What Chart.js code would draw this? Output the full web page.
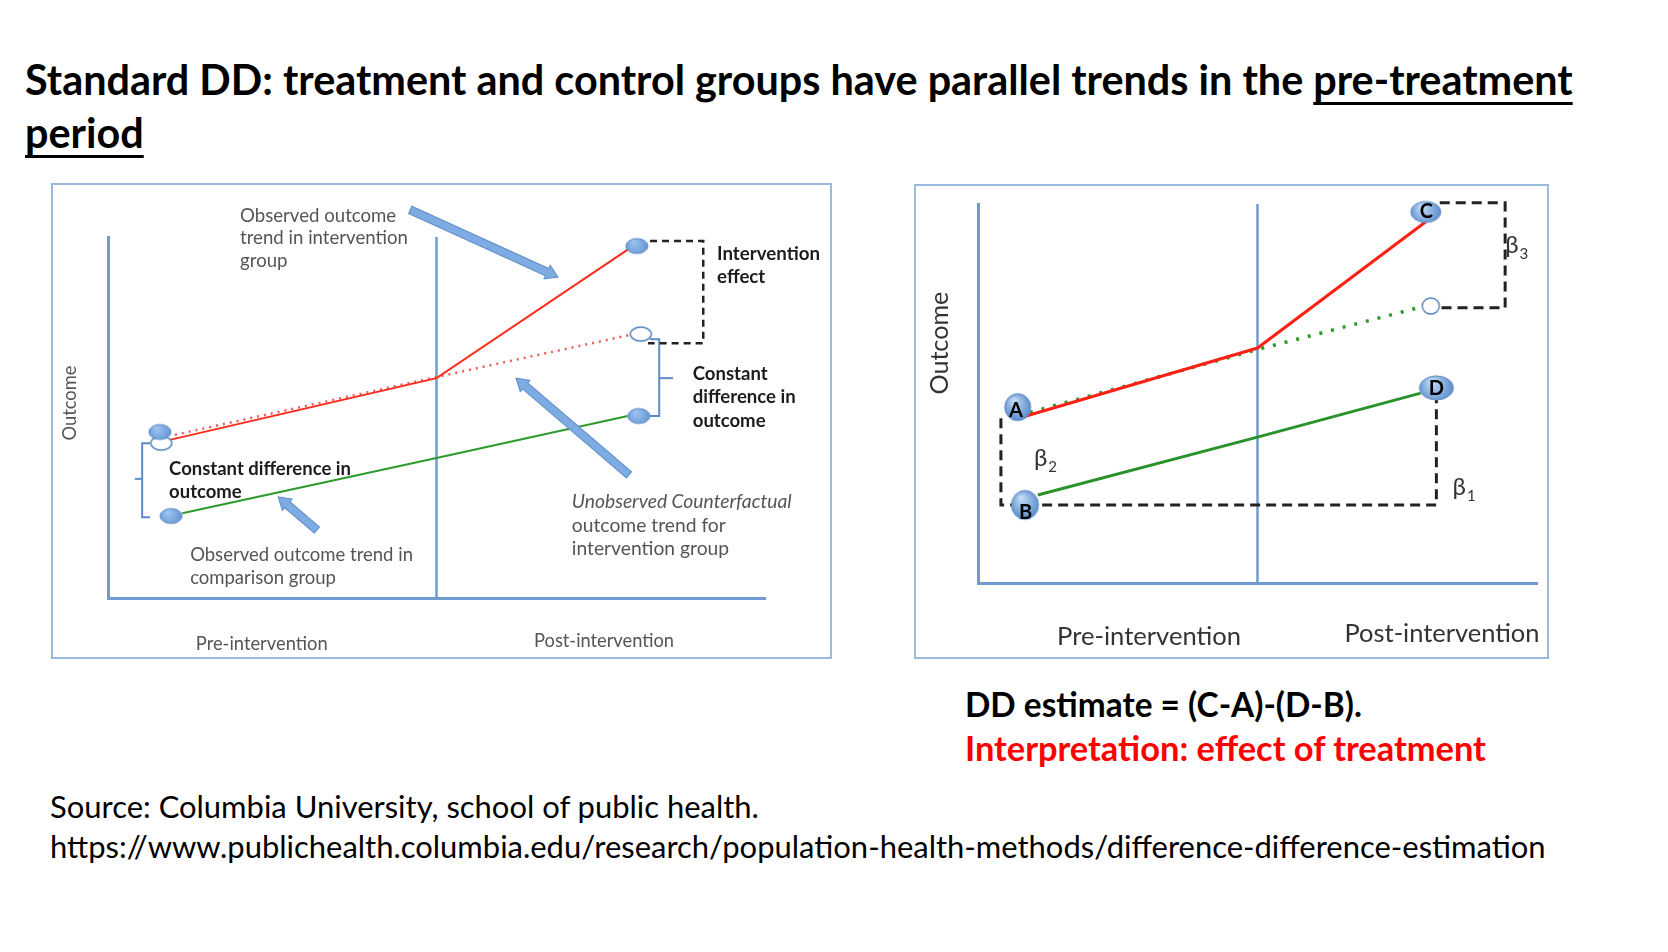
<!DOCTYPE html>
<html><head><meta charset="utf-8">
<title>Standard DD</title>
<script src="https://cdn.jsdelivr.net/npm/chart.js@4.4.1/dist/chart.umd.min.js"></script>
<style>
html,body{margin:0;padding:0;background:#fff;}
body{width:1668px;height:952px;position:relative;overflow:hidden;font-family:Lato,'Open Sans',sans-serif;}
.t{position:absolute;white-space:nowrap;line-height:1.2;margin:0;}
.bl{display:inline-block;width:0;height:0;}
u{text-decoration-thickness:3px;text-underline-offset:7px;}
.box{position:absolute;border:2px solid #9ab9df;box-sizing:border-box;}
canvas{position:absolute;}
</style></head>
<body>
<div id="title1" class="t" style="font-weight:700;color:#000">Standard DD: treatment and control groups have parallel trends in the <u>pre-treatment</u><span class="bl"></span></div>
<div id="title2" class="t" style="font-weight:700;color:#000"><u>period</u><span class="bl"></span></div>
<div class="box" style="left:51px;top:183px;width:781px;height:476px"></div>
<canvas id="left" width="780" height="475" style="left:51px;top:183px"></canvas>
<div class="box" style="left:914px;top:184px;width:635px;height:475px"></div>
<canvas id="right" width="634" height="474" style="left:914px;top:184px"></canvas>
<div id="dd" class="t" style="font-weight:700;color:#000">DD estimate = (C-A)-(D-B).<span class="bl"></span></div>
<div id="interp" class="t" style="font-weight:700;color:#ff0000">Interpretation: effect of treatment<span class="bl"></span></div>
<div id="src1" class="t" style="color:#000">Source: Columbia University, school of public health.<span class="bl"></span></div>
<div id="src2" class="t" style="color:#000">https://www.publichealth.columbia.edu/research/population-health-methods/difference-difference-estimation<span class="bl"></span></div>
<script>
// ================= DATA =================
// Time axis: 0..10, intervention at 5. Outcome axis: 0..10.
const periods = ['Pre-intervention', 'Post-intervention'];
const interventionX = 5;

// ---- Left panel ----
const leftTreated        = [{x:0.94,y:4.38},{x:5,y:6.09},{x:7.95,y:9.70}];
const leftCounterfactual = [{x:1.02,y:4.52},{x:5,y:6.12},{x:8.05,y:7.33}];
const leftComparison     = [{x:1.13,y:2.35},{x:5,y:3.88},{x:7.91,y:5.04}];
const leftFilledPoints   = [{x:0.79,y:4.60},{x:0.96,y:2.27},{x:8.05,y:9.75},{x:8.08,y:5.04}];
const leftOpenPoints     = [{x:0.81,y:4.29},{x:8.11,y:7.31}];
const leftEffectBracket  = [{x:8.25,y:9.89},{x:9.06,y:9.89},{x:9.06,y:7.06},{x:8.22,y:7.06}];
const leftBraceRight     = [{x:8.25,y:7.17},{x:8.39,y:7.17},{x:8.39,y:5.04},{x:8.25,y:5.04}];
const leftBraceRightTick = [{x:8.39,y:6.09},{x:8.60,y:6.09}];
const leftBraceLeft      = [{x:0.64,y:4.29},{x:0.52,y:4.29},{x:0.52,y:2.24},{x:0.64,y:2.24}];
const leftBraceLeftTick  = [{x:0.52,y:3.30},{x:0.41,y:3.30}];
const leftArrows         = [[4.6,10.75,6.85,8.89],[7.93,3.41,6.21,6.09],[3.18,1.88,2.59,2.80]];

// ---- Right panel ----
const rightTreated        = [{x:0.80,y:4.38},{x:5,y:6.20},{x:8.01,y:9.53}];
const rightCounterfactual = [{x:0.93,y:4.50},{x:5,y:6.16},{x:8.00,y:7.31}];
const rightComparison     = [{x:1.07,y:2.32},{x:5,y:3.85},{x:7.92,y:5.01}];
const rightNamedPoints    = [{x:0.71,y:4.64},{x:0.84,y:2.06},{x:8.01,y:9.79},{x:8.20,y:5.15}];
const rightPointNames     = ['A','B','C','D'];
const rightOpenPoints     = [{x:8.10,y:7.31}];
const rightBeta3Bracket   = [{x:8.26,y:10.03},{x:9.43,y:10.03},{x:9.43,y:7.26},{x:8.26,y:7.26}];
const rightBeta12Bracket  = [{x:0.41,y:4.35},{x:0.41,y:2.06},{x:8.20,y:2.06},{x:8.20,y:4.83}];
const rightBetaLabels     = ['β','β','β'];
const rightBetaSubs       = ['2','1','3'];
const rightBetaPos        = [{x:1.0,y:3.09},{x:8.49,y:2.32},{x:9.43,y:8.71}];

// ================= STYLE HELPERS =================
const FAM = "Lato, 'Open Sans', 'DejaVu Sans', sans-serif";
const axisBlue = '#6f9bd1';
const divider = [{x:interventionX,y:0},{x:interventionX,y:10}];

function lineDS(data, color, width, dash, order){
  return {type:'line', data, borderColor:color, borderWidth:width, borderDash:dash||[],
    pointRadius:0, fill:false, tension:0, clip:false, order:order==null?10:order,
    borderCapStyle:'butt', borderJoinStyle:'miter'};
}
function markerDS(data, styles, order){
  return {type:'scatter', data, showLine:false, pointStyle:styles, pointRadius:10,
    pointHoverRadius:10, clip:false, order};
}
function ellipseImg(w, h, kind){
  const pad = 3, c = document.createElement('canvas');
  c.width = Math.ceil(w + pad*2); c.height = Math.ceil(h + pad*2);
  const g = c.getContext('2d'), cx = c.width/2, cy = c.height/2;
  g.beginPath(); g.ellipse(cx, cy, w/2, h/2, 0, 0, Math.PI*2);
  if (kind === 'open') {
    g.fillStyle = '#ffffff'; g.fill(); g.lineWidth = 1.4; g.strokeStyle = '#4f81bd'; g.stroke();
  } else {
    const gr = g.createRadialGradient(cx - w*0.15, cy - h*0.25, 1, cx, cy, Math.max(w,h)*0.6);
    gr.addColorStop(0, kind === 'glossy' ? '#c4dcf7' : '#9cc3ef');
    gr.addColorStop(1, kind === 'glossy' ? '#4a80c4' : '#5b8fd0');
    g.fillStyle = gr; g.fill(); g.lineWidth = 1; g.strokeStyle = '#5a88c4'; g.stroke();
  }
  return c;
}
function arrowPlugin(arrows){
  return {id:'arrows', afterDatasetsDraw(chart){
    const {ctx, scales:{x, y}} = chart;
    arrows.forEach(a => {
      const x1 = x.getPixelForValue(a[0]), y1 = y.getPixelForValue(a[1]);
      const x2 = x.getPixelForValue(a[2]), y2 = y.getPixelForValue(a[3]);
      const ang = Math.atan2(y2-y1, x2-x1), L = Math.hypot(x2-x1, y2-y1);
      const sw = 4, hw = 7.5, hl = 12;
      ctx.save(); ctx.translate(x1, y1); ctx.rotate(ang);
      ctx.beginPath(); ctx.moveTo(0,-sw); ctx.lineTo(L-hl,-sw); ctx.lineTo(L-hl,-hw); ctx.lineTo(L,0);
      ctx.lineTo(L-hl,hw); ctx.lineTo(L-hl,sw); ctx.lineTo(0,sw); ctx.closePath();
      ctx.fillStyle = '#7eabe1'; ctx.fill(); ctx.strokeStyle = '#5f8fcc'; ctx.lineWidth = 1; ctx.stroke();
      ctx.restore();
    });
  }};
}
function labelPlugin(items){
  return {id:'labels', afterDatasetsDraw(chart){
    const {ctx, scales:{x, y}} = chart;
    items.forEach(L => {
      const px = x.getPixelForValue(L.x), py = y.getPixelForValue(L.y);
      const st = i => (L.italic && L.italic[i]) ? 'italic' : 'normal';
      const font = (i, s) => `${st(i)} ${L.weight||400} ${s}px ${FAM}`;
      let size = L.size || 16;
      const fl = L.fitLine || 0;
      if (L.fit) { ctx.font = font(fl, 100); size = 100 * L.fit / ctx.measureText(L.lines[fl]).width; }
      ctx.save();
      ctx.fillStyle = L.color || '#333';
      ctx.textAlign = L.align || 'left';
      ctx.textBaseline = L.baseline || 'alphabetic';
      ctx.translate(px, py);
      if (L.rotate) ctx.rotate(-Math.PI/2);
      L.lines.forEach((t, i) => { ctx.font = font(i, size); ctx.fillText(t, 0, i * (L.lh || 0)); });
      if (L.sub) {
        ctx.font = font(0, size); const w = ctx.measureText(L.lines[0]).width;
        ctx.font = `400 ${L.subSize}px ${FAM}`; ctx.fillText(L.sub, w + 1, L.subDy);
      }
      ctx.restore();
    });
  }};
}
function scaleOpts(){
  const ax = {type:'linear', min:0, max:10, grid:{display:false, drawTicks:false}, ticks:{display:false},
    border:{display:true, color:axisBlue, width:3}};
  return {x:{...ax}, y:{...ax}};
}

// ================= LEFT CHART =================
const leftLabels = [
  {x:2.01, y:10.42, lines:['Observed outcome','trend in intervention','group'], fit:168, fitLine:1, color:'#555', lh:22.5},
  {x:9.27, y:9.36, lines:['Intervention','effect'], fit:103, weight:700, color:'#1c1c1c', lh:23},
  {x:8.90, y:6.04, lines:['Constant','difference in','outcome'], fit:103, fitLine:1, weight:700, color:'#1c1c1c', lh:23.5},
  {x:0.93, y:3.41, lines:['Constant difference in','outcome'], fit:182, weight:700, color:'#1c1c1c', lh:23},
  {x:7.06, y:2.49, lines:['Unobserved Counterfactual','outcome trend for','intervention group'], italic:[true,false,false], fit:220, color:'#555', lh:23.5},
  {x:1.25, y:1.02, lines:['Observed outcome trend in','comparison group'], fit:223, color:'#555', lh:23},
  {x:2.34, y:-1.44, lines:[periods[0]], align:'center', fit:132, color:'#555'},
  {x:7.55, y:-1.36, lines:[periods[1]], align:'center', fit:140, color:'#555'},
  {x:-0.58, y:5.40, lines:['Outcome'], rotate:true, align:'center', baseline:'middle', fit:75, color:'#555'}
];
const filledL = ellipseImg(22, 15, 'flat');
const openL = ellipseImg(21, 14, 'open');
new Chart(document.getElementById('left'), {
  type:'line',
  data:{datasets:[
    markerDS(leftFilledPoints, leftFilledPoints.map(() => filledL), 0),
    markerDS(leftOpenPoints, leftOpenPoints.map(() => openL), 1),
    lineDS(leftTreated, '#ff2b1c', 2, [], 4),
    lineDS(leftCounterfactual, '#f05a5a', 2.5, [2, 5], 5),
    lineDS(leftComparison, '#2d9a2d', 2, [], 4),
    lineDS(leftEffectBracket, '#222', 2.5, [7, 5], 6),
    lineDS(leftBraceRight, '#5b8cc8', 2, [], 6),
    lineDS(leftBraceRightTick, '#5b8cc8', 2, [], 6),
    lineDS(leftBraceLeft, '#5b8cc8', 2, [], 6),
    lineDS(leftBraceLeftTick, '#5b8cc8', 2, [], 6),
    lineDS(divider, axisBlue, 2.5, [], 9)
  ]},
  options:{
    responsive:false, animation:false, events:[],
    layout:{padding:{left:57, top:54, right:66, bottom:60}},
    scales:scaleOpts(),
    plugins:{legend:{display:false}, tooltip:{enabled:false}}
  },
  plugins:[arrowPlugin(leftArrows), labelPlugin(leftLabels)]
});

// ================= RIGHT CHART =================
const rightLabels = [
  {x:-0.68, y:6.33, lines:['Outcome'], rotate:true, align:'center', baseline:'middle', fit:103, color:'#333'},
  {x:3.06, y:-1.64, lines:[periods[0]], align:'center', fit:184, color:'#333'},
  {x:8.30, y:-1.56, lines:[periods[1]], align:'center', fit:195, color:'#333'}
];
const letterOffsets = [{dx:-0.03,dy:-0.08},{dx:0.01,dy:-0.19},{dx:0.01,dy:0},{dx:0,dy:-0.03}];
rightNamedPoints.forEach((p, i) => rightLabels.push({x:p.x + letterOffsets[i].dx, y:p.y + letterOffsets[i].dy,
  lines:[rightPointNames[i]], weight:700, size:20, align:'center', baseline:'middle', color:'#000'}));
rightBetaPos.forEach((p, i) => rightLabels.push({x:p.x, y:p.y, lines:[rightBetaLabels[i]], size:24,
  color:'#333', sub:rightBetaSubs[i], subSize:15, subDy:6}));
const rightImgs = [ellipseImg(26, 27, 'glossy'), ellipseImg(27, 29, 'glossy'), ellipseImg(30, 21, 'glossy'), ellipseImg(34, 24, 'glossy')];
const openR = ellipseImg(17, 16, 'open');
new Chart(document.getElementById('right'), {
  type:'line',
  data:{datasets:[
    markerDS(rightNamedPoints, rightImgs, 0),
    markerDS(rightOpenPoints, [openR], 1),
    lineDS(rightTreated, '#ff2015', 3, [], 4),
    lineDS(rightCounterfactual, '#2a9a2a', 3.5, [3, 9], 5),
    lineDS(rightComparison, '#2a922a', 3, [], 4),
    lineDS(rightBeta3Bracket, '#222', 3, [10, 6], 6),
    lineDS(rightBeta12Bracket, '#222', 3, [10, 6], 6),
    lineDS(divider, axisBlue, 2.5, [], 9)
  ]},
  options:{
    responsive:false, animation:false, events:[],
    layout:{padding:{left:64, top:20, right:8, bottom:75}},
    scales:scaleOpts(),
    plugins:{legend:{display:false}, tooltip:{enabled:false}}
  },
  plugins:[labelPlugin(rightLabels)]
});

// ================= SLIDE TEXT =================
function placeText(id, x, baseline, width, fs){
  const el = document.getElementById(id);
  el.style.left = x + 'px'; el.style.top = '0px';
  if (!fs) { el.style.fontSize = '100px'; fs = 100 * width / el.getBoundingClientRect().width; }
  el.style.fontSize = fs + 'px';
  const b = el.querySelector('.bl').offsetTop;
  el.style.top = (baseline - b) + 'px';
  return fs;
}
const tfs = placeText('title1', 25, 95, 1548);
placeText('title2', 25, 148, 0, tfs);
const dfs = placeText('dd', 965, 717, 397);
placeText('interp', 965, 761, 521);
const sfs = placeText('src2', 50, 858, 1496);
placeText('src1', 50, 818, 0, sfs);
</script>
</body></html>
